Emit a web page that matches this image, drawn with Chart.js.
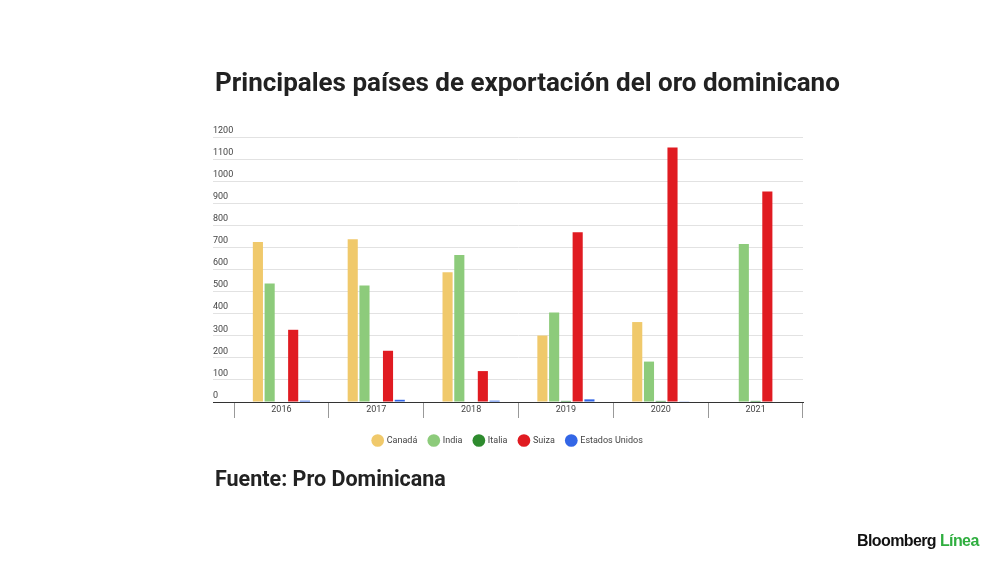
<!DOCTYPE html>
<html>
<head>
<meta charset="utf-8">
<script src="https://cdn.jsdelivr.net/npm/chart.js@4.4.1/dist/chart.umd.min.js"></script>
<style>
	html, body { margin: 0; padding: 0; background: #fff; }
	#wrap { position: relative; width: 1000px; height: 562px; overflow: hidden; font-family: Roboto, sans-serif; }
	#cv { position: absolute; left: 0; top: 0; }
	#title { position: absolute; left: 215px; top: 69px; font-size: 26px; font-weight: 700; color: #222; line-height: 26px; white-space: nowrap; }
	#source { position: absolute; left: 215px; top: 467px; font-size: 21.5px; font-weight: 700; color: #222; line-height: 23px; white-space: nowrap; }
	#logo { position: absolute; left: 857px; top: 532px; font-family: "Liberation Sans", Arial, sans-serif; font-size: 16px; font-weight: 700; line-height: 18px; color: #111; letter-spacing: -0.6px; white-space: nowrap; }
	#logo span { color: #2fae3f; }
</style>
</head>
<body>
<div id="wrap">
	<canvas id="cv" width="1000" height="562"></canvas>
	<div id="title">Principales países de exportación del oro dominicano</div>
	<div id="source">Fuente: Pro Dominicana</div>
	<div id="logo">Bloomberg <span>Línea</span></div>
</div>
<script>
var years = ["2016", "2017", "2018", "2019", "2020", "2021"];
var canada = [725, 737, 588, 301, 362, 0];
var india = [537, 527, 666, 405, 183, 716];
var italia = [0, 0, 0, 5, 5, 5];
var suiza = [327, 232, 140, 769, 1152, 953];
var eeuu = [6, 10, 6, 12, 3, 0];

var Cfg = {
	type: "bar",
	data: {
		labels: years,
		datasets: [
			{ label: "Canadá", data: canada, backgroundColor: "#f0c96b" },
			{ label: "India", data: india, backgroundColor: "#8dcb7b" },
			{ label: "Italia", data: italia, backgroundColor: "#2e8b2e" },
			{ label: "Suiza", data: suiza, backgroundColor: "#e01b21" },
			{ label: "Estados Unidos", data: eeuu, backgroundColor: "#3366e6" }
		]
	},
	options: {
		responsive: false,
		animation: false,
		layout: { padding: { left: 213, right: 197, top: 137, bottom: 107 } },
		datasets: { bar: { categoryPercentage: 0.62, barPercentage: 0.86 } },
		plugins: {
			tooltip: { enabled: false },
			legend: {
				position: "bottom",
				labels: {
					usePointStyle: true, pointStyle: "circle", boxWidth: 10, boxHeight: 10,
					padding: 12, color: "#444",
					font: { family: "Roboto", size: 9 }
				}
			}
		},
		scales: {
			x: {
				afterFit: function(s) { s.height = 22; },
				grid: { drawOnChartArea: false, tickLength: 16, color: "#999", offset: true },
				border: { color: "#333", width: 1 },
				ticks: { padding: -13.4, color: "#444", font: { family: "Roboto", size: 9 } }
			},
			y: {
				min: 0, max: 1200,
				afterFit: function(s) { s.width = 21; },
				grid: {
					tickLength: 21,
					color: function(c) { return c.tick && c.tick.value === 0 ? "#333" : "#e2e2e2"; }
				},
				border: { display: false },
				ticks: {
					stepSize: 100, crossAlign: "far", labelOffset: -6.5,
					color: "#444", font: { family: "Roboto", size: 9 },
					callback: function(v) { return String(v); }
				}
			}
		}
	}
};

var chart = new Chart(document.getElementById("cv"), Cfg);
</script>
</body>
</html>
